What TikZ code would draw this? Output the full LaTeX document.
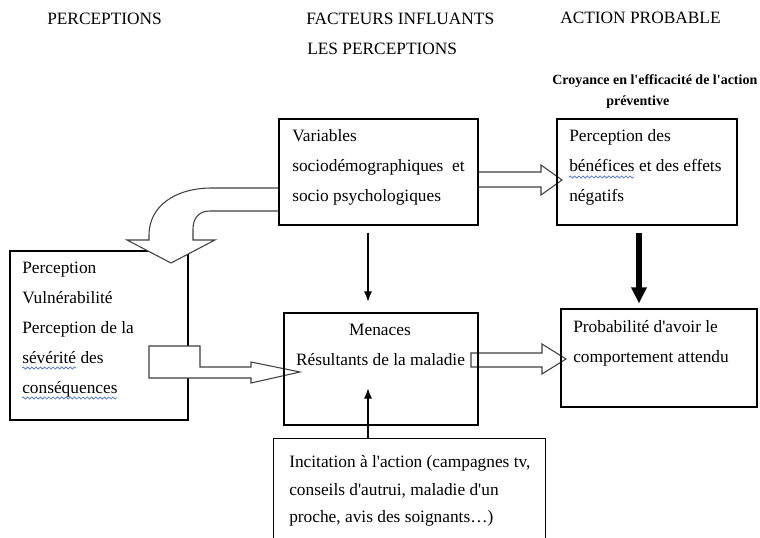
\documentclass[tikz,border=0pt]{standalone}
\usepackage{fontspec}
\setmainfont{Liberation Serif}
\usetikzlibrary{fit,calc,arrows.meta,decorations.pathmorphing}

\begin{document}
\begin{tikzpicture}[x=0.75pt,y=0.75pt,yscale=-1,xscale=1,
  box/.style={draw, line width=0.8pt, inner sep=0pt},
  txt/.style={anchor=base west, inner sep=0pt, font=\fontsize{13pt}{15pt}\selectfont},
  ctxt/.style={txt, anchor=base},
  bold/.style={txt, font=\fontsize{10.5pt}{12pt}\selectfont\bfseries},
  blockarrow/.style={draw={rgb, 255:red, 64; green, 64; blue, 64}, fill=white, line width=0.8pt, line join=miter},
  thinarr/.style={line width=0.8pt, -{Latex[length=7.5pt,width=6pt]}},
  thickarr/.style={line width=4.5pt, -{Triangle[length=12pt,width=11pt]}},
  spell/.style={draw={rgb, 255:red, 74; green, 110; blue, 226}, line width=0.5pt, decorate, decoration={snake, amplitude=0.8pt, segment length=3.2pt}}
]
%uncomment if require: \path (0,538); %set diagram left start at 0, and has height of 538
\fill[white] (0,0) rectangle (760,538);
\useasboundingbox (0,0) rectangle (760,538);

%Headers
\node[txt] (h-perc) at (47,25) {PERCEPTIONS};
\node[txt] (h-fact) at (306,25) {FACTEURS INFLUANTS};
\node[txt] (h-les) at (307,55) {LES PERCEPTIONS};
\node[txt] (h-act) at (560,24) {ACTION PROBABLE};
\node[bold] (h-croy) at (552,85) {Croyance en l\textquotesingle efficacité de l\textquotesingle action};
\node[bold] (h-prev) at (606,106) {préventive};

%Shape: Rectangle - perceptions
\node[box, fit={(10,251) (188,420)}] (perc) {};
\foreach \t [count=\i] in {Perception, Vulnérabilité, Perception de la, sévérité des, conséquences}
  \node[txt] (perc-\i) at (22,243+30*\i) {\t};

%Shape: Bent Arrow
\draw[blockarrow] (279,188) -- (212,188) .. controls (174,188) and (149,207) .. (149,235) -- (149,240) -- (127,240) -- (171,263) -- (215,240) -- (193,240) -- (193,229) .. controls (193,218) and (199,211) .. (210,211) -- (279,211) -- cycle ;
%Shape: Right Arrow (perceptions - menaces)
\draw[blockarrow] (149,346) -- (200,346) -- (200,367) -- (251,367) -- (251,362) -- (300,372) -- (251,383) -- (251,378) -- (149,378) -- cycle ;
%Shape: Right Arrow (variables - benefices)
\draw[blockarrow] (478,172) -- (541,172) -- (541,165) -- (562,180) -- (541,195) -- (541,187) -- (478,187) -- cycle ;
%Shape: Right Arrow (menaces - probabilite)
\draw[blockarrow] (471,353) -- (542,353) -- (542,344) -- (566,359) -- (542,374) -- (542,367) -- (471,367) -- cycle ;

%Shape: Rectangle - variables
\node[box, fit={(279,119) (478,225)}] (var) {};
\foreach \t [count=\i] in {Variables, sociodémographiques\hspace{6.5pt}et, socio psychologiques}
  \node[txt] (var-\i) at (292,112+30*\i) {\t};

%Shape: Rectangle - benefices
\node[box, fit={(557,119) (737,225)}] (ben) {};
\foreach \t [count=\i] in {Perception des, bénéfices et des effets, négatifs}
  \node[txt] (ben-\i) at (569,112+30*\i) {\t};

%Shape: Rectangle - menaces
\node[box, fit={(284,313) (478,425)}] (men) {};
\node[ctxt] (men-1) at (380,335) {Menaces};
\node[ctxt] (men-2) at (380.5,365) {Résultants de la maladie};

%Shape: Rectangle - probabilite
\node[box, fit={(561,309) (757,407)}] (prob) {};
\foreach \t [count=\i] in {Probabilité d\textquotesingle avoir le, comportement attendu}
  \node[txt] (prob-\i) at (573,302+30*\i) {\t};

%Shape: Rectangle - incitation (open at the bottom)
\node[inner sep=0pt, fit={(274,439) (545,538)}] (incit) {};
\draw[line width=0.8pt] (incit.south west) |- (incit.north east) -- (incit.south east);
\foreach \t [count=\i] in {{Incitation à l\textquotesingle action (campagnes tv,}, {conseils d\textquotesingle autrui, maladie d\textquotesingle un}, {proche, avis des soignants…)}}
  \node[txt] (incit-\i) at (289,440+27.5*\i) {\t};

%Straight Lines
\coordinate (mx) at (368,0);
\coordinate (kx) at (639,0);
\draw[thinarr, shorten <=5.25pt, shorten >=8.25pt] (var.south -| mx) -- (men.north -| mx);
\draw[thinarr] (incit.north -| mx) -- ($(men.south -| mx)+(0,-37)$);
\draw[thickarr, shorten <=5.25pt, shorten >=3.75pt] (ben.south -| kx) -- (prob.north -| kx);

%spelling marks
\draw[spell] ($(ben-2.base west)+(0,5)$) -- ++(65,0);
\draw[spell] ($(perc-4.base west)+(0,5)$) -- ++(54,0);
\draw[spell] ($(perc-5.base west)+(0,5)$) -- ++(95,0);

\end{tikzpicture}
\end{document}
